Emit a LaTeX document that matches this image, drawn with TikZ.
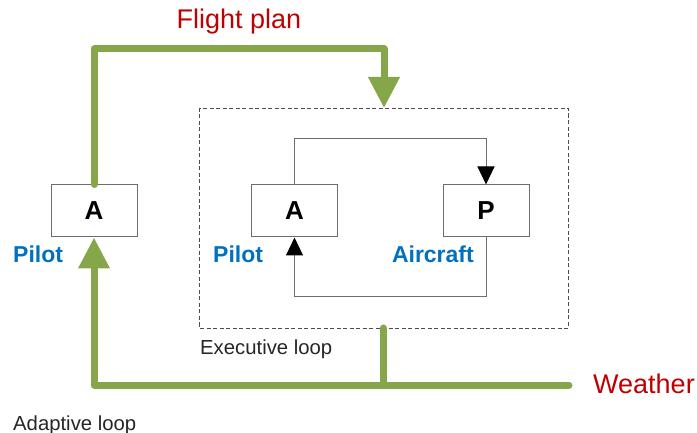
\documentclass[tikz,border=0pt]{standalone}
\usepackage{fontspec}
\setmainfont{Liberation Sans}
\usetikzlibrary{arrows.meta}
\definecolor{fgreen}{RGB}{134,166,74}
\definecolor{fred}{RGB}{192,0,0}
\definecolor{fblue}{RGB}{0,112,192}
\definecolor{bgray}{RGB}{110,110,110}
\tikzset{
  blk/.style={draw=bgray, line width=1pt, fill=white, minimum width=86pt, minimum height=52pt, inner sep=0pt,
    font=\fontsize{26}{28}\selectfont\bfseries},
  gline/.style={draw=fgreen, line width=7pt, line cap=round, line join=round},
  garrow/.style={-{Triangle[width=30pt,length=31pt]}},
  thinline/.style={draw=bgray, line width=1pt},
  barrow/.style={-{Triangle[width=17pt,length=18pt,black]}},
  rlab/.style={text=fred, font=\fontsize{27}{29}\selectfont, inner sep=0pt},
  blab/.style={text=fblue, font=\fontsize{23}{25}\selectfont\bfseries, inner sep=0pt},
  klab/.style={text=black!85, font=\fontsize{20.3}{22}\selectfont, inner sep=0pt},
  dbox/.style={draw=black!70, line width=0.8pt, dash pattern=on 4pt off 2.5pt}
}
\begin{document}
\begin{tikzpicture}[x=1pt,y=-1pt]
\useasboundingbox (0,0) rectangle (697,433);
% dashed box
\draw[dbox] (199,108) rectangle (568,328);
\coordinate (dtop) at (384,108);
\coordinate (dbot) at (383,328);
% green paths
\coordinate (tl) at (94,49);
\coordinate (bl) at (94,385);
\coordinate (br) at (569,385);
\coordinate (bj) at (383,385);
\node[blk] (boxL) at (94,211) {A};
\node[blk] (boxA) at (294.5,211) {A};
\node[blk] (boxP) at (486,211) {P};
\draw[gline, garrow] (boxL.north) -- (tl) -| (dtop);
\draw[gline, garrow] (br) -- (bl) -- (boxL.south);
\draw[gline] (dbot) -- (bj);
% black loop
\draw[thinline, barrow] (boxA.north) -- ++(0,-46) -| (boxP.north);
\draw[thinline, barrow] (boxP.south) -- ++(0,59) -| (boxA.south);
% labels
\node[rlab, anchor=base] (fp) at (239,29) {Flight plan};
\node[rlab, anchor=base west] (we) at (593,393) {Weather};
\node[blab, anchor=base west] (pl1) at (13,262) {Pilot};
\node[blab, anchor=base west] (pl2) at (213,262) {Pilot};
\node[blab, anchor=base east] (ac) at (474,262) {Aircraft};
\node[klab, anchor=base west] (ex) at (200,354) {Executive loop};
\node[klab, anchor=base west] (ad) at (13,430) {Adaptive loop};
\end{tikzpicture}
\end{document}
